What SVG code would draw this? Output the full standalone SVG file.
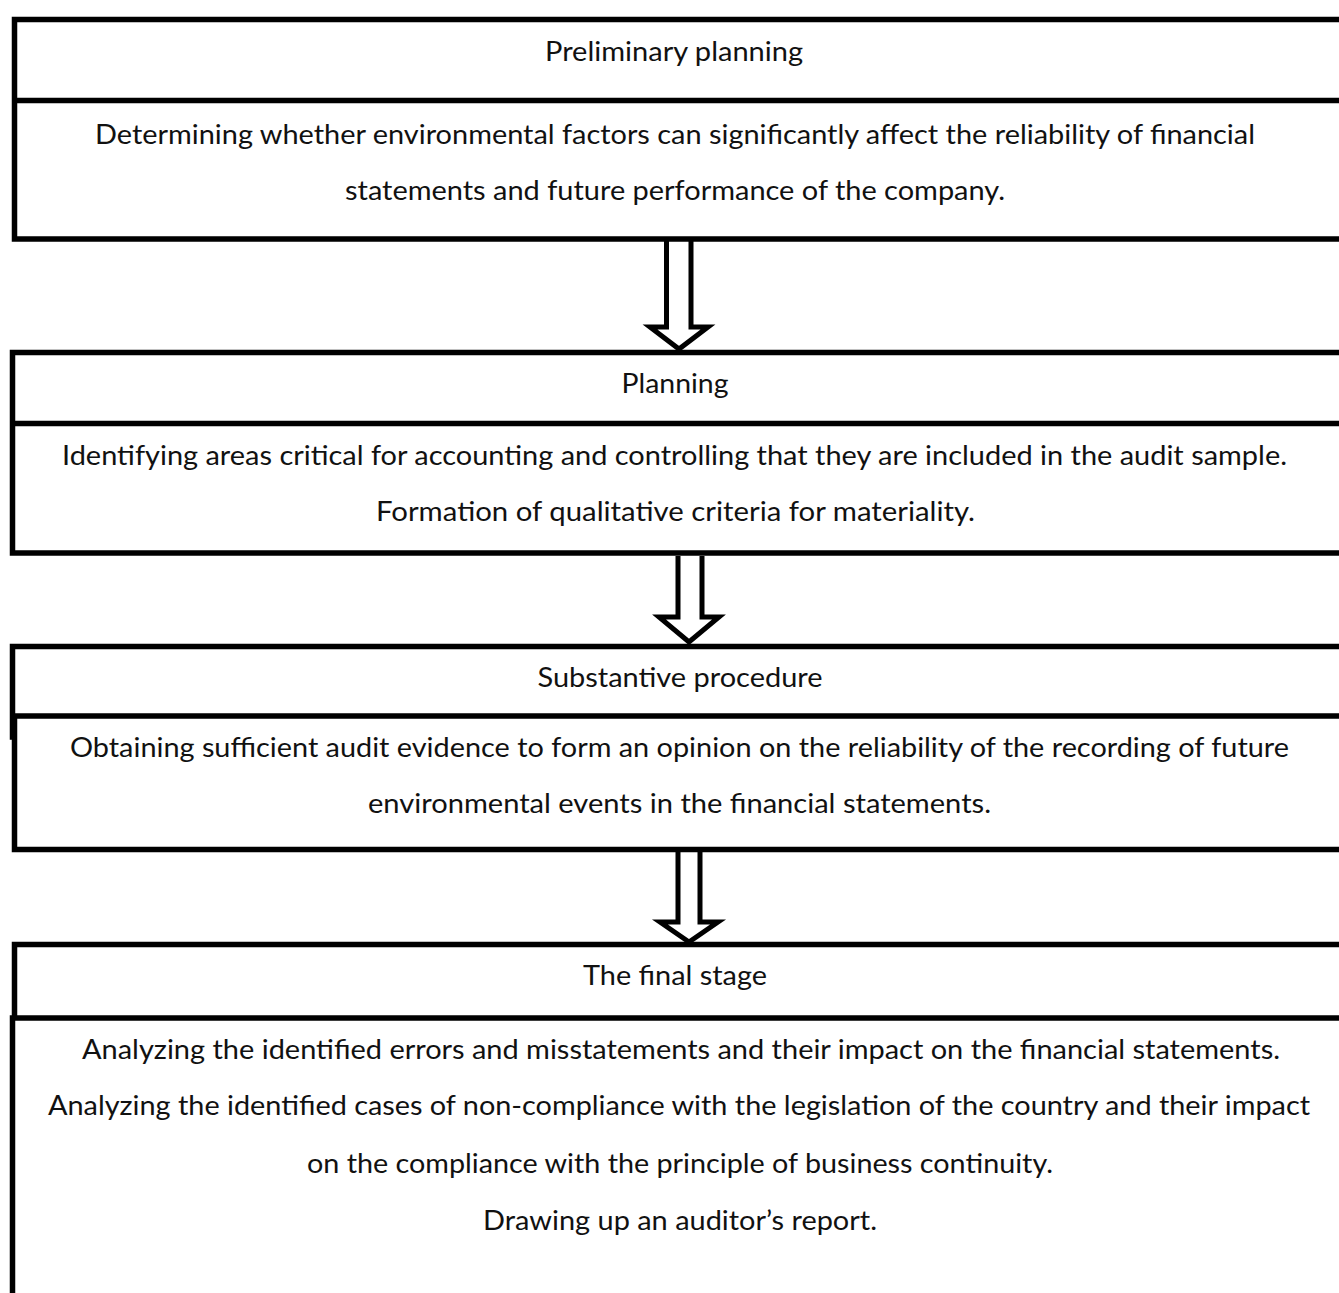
<svg xmlns="http://www.w3.org/2000/svg" width="1339" height="1293" viewBox="0 0 1339 1293">
<style>
.frame{fill:none;stroke:#000;stroke-width:5.5;stroke-linecap:square}
.arrow{fill:#fff;stroke:#000;stroke-width:5;stroke-linejoin:miter}
text{font-family:Lato,"Open Sans","Liberation Sans",sans-serif;font-size:26px;fill:#111;text-anchor:middle}
</style>
<rect width="1339" height="1293" fill="#fff"/>
<g id="connectors">
<path class="arrow" d="M666.5 241 V327 H650 L679 349 L708 327 H691 V241"/>
<path class="arrow" d="M678 556 V617 H659 L689 642 L719 617 H702 V556"/>
<path class="arrow" d="M678 852 V922 H660 L689 942 L718 922 H700 V852"/>
</g>
<g id="node-preliminary">
<path class="frame" d="M1345 19.5 H14.5 V239 H1345 M14.5 100.5 H1345"/>
<text x="674" y="61" textLength="258" lengthAdjust="spacingAndGlyphs">Preliminary planning</text>
<text x="675" y="144" textLength="1160" lengthAdjust="spacingAndGlyphs">Determining whether environmental factors can significantly affect the reliability of financial</text>
<text x="675" y="200" textLength="660" lengthAdjust="spacingAndGlyphs">statements and future performance of the company.</text>
</g>
<g id="node-planning">
<path class="frame" d="M1345 352.5 H12.5 V553 H1345 M12.5 423.5 H1345"/>
<text x="675" y="393" textLength="107" lengthAdjust="spacingAndGlyphs">Planning</text>
<text x="674.5" y="465" textLength="1225" lengthAdjust="spacingAndGlyphs">Identifying areas critical for accounting and controlling that they are included in the audit sample.</text>
<text x="675.5" y="521" textLength="599" lengthAdjust="spacingAndGlyphs">Formation of qualitative criteria for materiality.</text>
</g>
<g id="node-substantive">
<path class="frame" d="M1345 646.5 H12.5 V737 M14.5 716 V849.5 H1345 M12.5 716 H1345"/>
<text x="680" y="687" textLength="285" lengthAdjust="spacingAndGlyphs">Substantive  procedure</text>
<text x="679.5" y="757" textLength="1219" lengthAdjust="spacingAndGlyphs">Obtaining sufficient audit evidence to form an opinion on the reliability of the recording of future</text>
<text x="679.5" y="813" textLength="623" lengthAdjust="spacingAndGlyphs">environmental events in the financial statements.</text>
</g>
<g id="node-final">
<path class="frame" d="M1345 944.5 H14.5 V1018 M12.5 1018 V1300 M12.5 1018 H1345"/>
<text x="675" y="985" textLength="184" lengthAdjust="spacingAndGlyphs">The final stage</text>
<text x="681" y="1059" textLength="1198" lengthAdjust="spacingAndGlyphs">Analyzing the identified errors and misstatements and their impact on the financial statements.</text>
<text x="679" y="1115" textLength="1262" lengthAdjust="spacingAndGlyphs">Analyzing the identified cases of non-compliance with the legislation of the country and their impact</text>
<text x="680" y="1173" textLength="746" lengthAdjust="spacingAndGlyphs">on the compliance with the principle of business continuity.</text>
<text x="680" y="1230" textLength="394" lengthAdjust="spacingAndGlyphs">Drawing up an auditor’s report.</text>
</g>
</svg>
